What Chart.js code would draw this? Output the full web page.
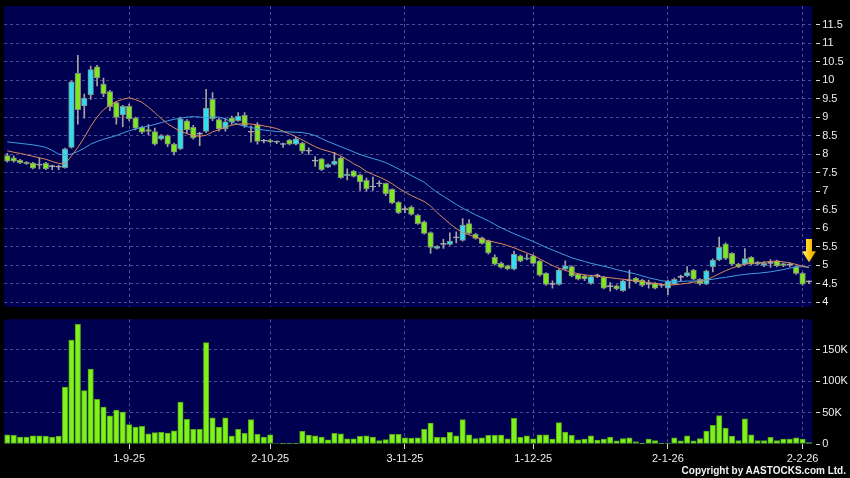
<!DOCTYPE html>
<html><head><meta charset="utf-8">
<script src="https://cdn.jsdelivr.net/npm/chart.js@4/dist/chart.umd.min.js"></script>
<style>
html,body{margin:0;padding:0;background:#000;width:850px;height:478px;overflow:hidden}
canvas{position:absolute;left:0}
#top{top:0}
#bot{top:310px}
#copy{position:absolute;right:4px;top:465px;line-height:12px;font:bold 10px "Liberation Sans",Arial,sans-serif;color:#f2f2f2;white-space:nowrap}
</style></head><body>
<canvas id="top" width="850" height="310"></canvas>
<canvas id="bot" width="850" height="168"></canvas>
<div id="copy">Copyright by AASTOCKS.com Ltd.</div>
<script>
// ---- data (one entry per trading day) ----
const opens = [7.96,7.90,7.83,7.78,7.76,7.70,7.75,7.66,7.65,7.63,
 8.18,10.18,9.30,9.60,10.36,9.89,9.69,9.39,9.06,9.29,
 8.97,8.72,8.66,8.61,8.41,8.50,8.27,8.14,8.90,8.72,
 8.54,8.61,9.48,8.93,8.68,8.97,8.90,9.05,8.59,8.79,
 8.35,8.37,8.32,8.26,8.38,8.27,8.30,8.08,7.81,7.87,
 7.65,7.72,7.90,7.42,7.54,7.44,7.29,7.11,7.20,7.21,
 7.05,6.70,6.50,6.57,6.35,6.17,5.88,5.45,5.56,5.56,
 5.74,5.67,6.12,5.83,5.74,5.66,5.21,5.05,4.98,4.89,
 5.25,5.16,5.25,5.11,4.78,4.48,4.48,4.89,4.96,4.75,
 4.71,4.51,4.71,4.67,4.42,4.44,4.31,4.58,4.65,4.60,
 4.48,4.51,4.45,4.38,4.49,4.67,4.71,4.87,4.62,4.49,
 4.96,5.14,5.57,5.32,5.03,5.03,5.21,5.03,4.99,5.05,
 5.12,5.04,5.00,4.96,4.78,4.55];
const highs = [8.02,7.95,7.86,7.80,7.78,7.90,7.78,7.70,7.70,8.16,
 9.97,10.67,9.62,10.38,10.40,10.05,9.72,9.42,9.32,9.35,
 9.00,8.75,8.80,8.70,8.53,8.52,8.30,9.00,8.93,8.78,
 8.59,9.75,9.66,8.97,8.97,9.03,9.12,9.12,8.76,8.85,
 8.40,8.40,8.36,8.30,8.40,8.45,8.32,8.17,7.93,7.88,
 7.74,8.05,7.92,7.60,7.56,7.46,7.35,7.38,7.28,7.22,
 7.06,6.72,6.58,6.60,6.37,6.20,5.90,5.53,5.70,5.87,
 5.90,6.26,6.23,5.86,5.76,5.68,5.28,5.08,5.00,5.38,
 5.27,5.30,5.28,5.13,4.80,4.58,4.90,5.12,4.98,4.78,
 4.74,4.72,4.76,4.70,4.53,4.47,4.60,4.87,4.67,4.62,
 4.60,4.53,4.50,4.60,4.65,4.73,4.96,4.89,4.64,4.87,
 5.17,5.76,5.60,5.34,5.05,5.45,5.23,5.10,5.10,5.15,
 5.14,5.06,5.06,4.98,4.80,4.58];
const lows = [7.78,7.78,7.74,7.72,7.60,7.60,7.58,7.58,7.58,7.62,
 8.16,8.81,8.97,9.48,9.84,9.55,9.17,8.81,8.74,8.90,
 8.65,8.55,8.52,8.24,8.38,8.20,7.98,8.12,8.55,8.40,
 8.23,8.58,8.90,8.62,8.62,8.80,8.88,8.72,8.32,8.27,
 8.30,8.30,8.28,8.18,8.25,8.25,8.02,7.99,7.67,7.55,
 7.63,7.70,7.34,7.30,7.38,7.02,7.00,7.02,7.12,6.88,
 6.66,6.39,6.42,6.35,6.10,5.84,5.32,5.43,5.45,5.54,
 5.60,5.65,5.84,5.70,5.57,5.30,5.00,4.92,4.88,4.87,
 5.09,5.14,5.03,4.70,4.45,4.38,4.46,4.87,4.68,4.60,
 4.58,4.48,4.66,4.36,4.30,4.33,4.29,4.38,4.52,4.42,
 4.38,4.36,4.40,4.20,4.47,4.56,4.69,4.60,4.46,4.47,
 4.82,5.12,5.15,5.00,4.93,5.00,5.00,5.00,4.96,4.94,
 4.95,4.96,4.95,4.75,4.46,4.50];
const closes = [7.81,7.81,7.77,7.74,7.62,7.70,7.60,7.66,7.65,8.14,
 9.95,9.20,9.51,10.28,10.06,9.63,9.28,8.99,9.29,8.95,
 8.70,8.59,8.61,8.27,8.50,8.27,8.05,8.95,8.65,8.44,
 8.54,9.24,8.95,8.68,8.87,8.86,9.03,8.77,8.59,8.34,
 8.35,8.33,8.32,8.26,8.27,8.41,8.08,8.08,7.81,7.58,
 7.72,7.81,7.36,7.46,7.40,7.25,7.06,7.11,7.20,6.93,
 6.68,6.42,6.50,6.37,6.12,5.86,5.48,5.51,5.56,5.65,
 5.74,6.08,5.86,5.72,5.59,5.33,5.03,4.94,4.90,5.30,
 5.11,5.20,5.05,4.73,4.48,4.48,4.87,4.98,4.71,4.62,
 4.63,4.69,4.71,4.38,4.42,4.36,4.58,4.58,4.54,4.45,
 4.48,4.38,4.45,4.58,4.62,4.67,4.80,4.62,4.50,4.85,
 5.14,5.48,5.18,5.03,4.95,5.18,5.03,5.08,5.05,5.05,
 4.98,4.99,5.00,4.78,4.49,4.55];
const volumes = [14700,13600,11000,11000,13000,13000,12600,11000,12600,90500,
 165000,190000,84700,119000,70800,58500,44600,53700,50500,30700,
 27000,28000,16300,18000,18400,17400,21100,66500,39300,23200,
 23200,161000,41400,27000,41400,12600,23200,16800,38700,15200,
 11000,14700,800,600,400,300,20000,14100,13100,11000,
 6700,16800,16300,8300,8300,12000,13100,11000,5600,7200,
 15200,15200,9900,9300,9900,23200,33400,10400,10400,18400,
 13100,38700,14700,8800,9900,13600,13600,14100,8300,40900,
 10400,13100,8300,14700,14700,7700,33900,19000,13600,6700,
 7700,13100,6100,7700,11000,5100,8800,9900,4000,1300,
 7700,5600,1300,1500,9900,5100,13100,5100,8800,20500,
 29600,45200,25400,12600,5600,39800,14700,5600,5600,10400,
 5600,7700,7700,9900,7700,2400];
const ma10 = [8.09,8.05,8.02,7.98,7.94,7.90,7.86,7.80,7.75,7.73,
 7.95,8.18,8.45,8.75,9.00,9.20,9.33,9.42,9.48,9.52,
 9.47,9.40,9.27,9.12,8.96,8.82,8.71,8.62,8.55,8.50,
 8.48,8.51,8.60,8.66,8.73,8.78,8.81,8.82,8.81,8.79,
 8.76,8.73,8.69,8.62,8.55,8.47,8.38,8.29,8.20,8.13,
 8.08,8.03,7.95,7.85,7.74,7.65,7.53,7.45,7.38,7.30,
 7.20,7.08,6.98,6.88,6.80,6.72,6.60,6.42,6.27,6.12,
 5.99,5.88,5.82,5.75,5.70,5.66,5.62,5.58,5.53,5.47,
 5.40,5.33,5.26,5.17,5.08,4.99,4.92,4.86,4.81,4.77,
 4.74,4.72,4.70,4.68,4.66,4.64,4.62,4.60,4.58,4.55,
 4.53,4.51,4.48,4.46,4.47,4.49,4.51,4.54,4.56,4.60,
 4.68,4.77,4.85,4.92,4.98,5.03,5.05,5.06,5.08,5.10,
 5.11,5.09,5.06,5.02,4.97,4.93];
const ma20 = [8.33,8.31,8.29,8.27,8.25,8.22,8.18,8.10,8.00,7.97,
 8.00,8.07,8.16,8.27,8.34,8.40,8.45,8.50,8.57,8.63,
 8.68,8.72,8.76,8.80,8.85,8.90,8.94,8.97,9.00,9.01,
 9.00,8.98,9.00,9.00,8.95,8.87,8.80,8.75,8.72,8.68,
 8.65,8.63,8.61,8.60,8.60,8.59,8.58,8.55,8.50,8.42,
 8.34,8.27,8.20,8.13,8.06,7.99,7.93,7.88,7.83,7.77,
 7.69,7.60,7.51,7.42,7.33,7.24,7.10,6.97,6.86,6.75,
 6.64,6.54,6.45,6.36,6.28,6.20,6.10,6.01,5.93,5.85,
 5.78,5.71,5.64,5.56,5.48,5.41,5.34,5.27,5.20,5.15,
 5.10,5.05,5.01,4.97,4.93,4.88,4.84,4.80,4.76,4.71,
 4.66,4.62,4.58,4.56,4.56,4.56,4.57,4.57,4.58,4.60,
 4.62,4.65,4.67,4.70,4.73,4.75,4.77,4.78,4.80,4.82,
 4.85,4.88,4.92,4.95,4.96,4.95];
const tickLabels = ['1-9-25','2-10-25','3-11-25','1-12-25','2-1-26','2-2-26'];
const tickBars = [19, 41, 62, 82, 103, 124];
const priceTicks = [4,4.5,5,5.5,6,6.5,7,7.5,8,8.5,9,9.5,10,10.5,11,11.5];
const volumeTicks = [0,50000,100000,150000];
const signalBar = 125;
const signalPrice = 5.39;

// ---- styling ----
const FONT = '"Liberation Sans", Arial, sans-serif';
const NAVY = '#000050';
const GRID = 'rgba(125,125,190,0.62)';
const TXT = '#ececec';
const UP = '#33dcf0', DOWN = '#80e622', DOJI = '#b4b4b4';
const EDGE = '#7e8c80', WICK = '#a4a4a4';

const categories = opens.map((_, i) => {
  const k = tickBars.indexOf(i);
  return k >= 0 ? tickLabels[k] : '';
});

const bgPlugin = {
  id: 'plotbg',
  beforeDraw(c) {
    const {ctx, chartArea: a} = c;
    ctx.save();
    ctx.fillStyle = NAVY;
    ctx.fillRect(a.left, a.top, a.right - a.left, a.bottom - a.top);
    ctx.restore();
  }
};

function makeArrow() {
  const c = document.createElement('canvas');
  c.width = 14; c.height = 23;
  const g = c.getContext('2d');
  const grad = g.createLinearGradient(0, 0, 14, 0);
  grad.addColorStop(0, '#fff08a');
  grad.addColorStop(0.45, '#ffd21a');
  grad.addColorStop(1, '#e09a00');
  g.fillStyle = grad;
  g.beginPath();
  g.moveTo(4, 0); g.lineTo(10, 0); g.lineTo(10, 12);
  g.lineTo(14, 12); g.lineTo(7, 23); g.lineTo(0, 12); g.lineTo(4, 12);
  g.closePath(); g.fill();
  return c;
}

const RIGHT_AXIS_W = 37.8;
const noPad = s => { s.paddingTop = 0; s.paddingBottom = 0; s.paddingLeft = 0; s.paddingRight = 0; };
const yTickStyle = {
  color: TXT, font: {family: FONT, size: 11}, padding: 2
};
const yGrid = {
  color: GRID, drawTicks: true, tickLength: 8, tickColor: '#d8d8d8',
  tickBorderDash: [0, 4, 4, 10], tickWidth: 1
};

const candleColor = ctx => {
  const i = ctx.dataIndex;
  return closes[i] > opens[i] ? UP : closes[i] < opens[i] ? DOWN : DOJI;
};
const candleEdge = ctx => {
  const i = ctx.dataIndex;
  return closes[i] === opens[i] ? DOJI : EDGE;
};

const arrowImg = makeArrow();

new Chart(document.getElementById('top'), {
  type: 'bar',
  data: {
    labels: categories,
    datasets: [
      { type: 'bar', data: lows.map((l, i) => [l, highs[i]]), backgroundColor: WICK,
        borderWidth: 0, barThickness: 1, grouped: false, order: 4 },
      { type: 'bar', data: opens.map((o, i) => [o, closes[i]]), backgroundColor: candleColor,
        borderColor: candleEdge, borderWidth: 1, borderSkipped: false, barThickness: 5.6,
        minBarLength: 1, grouped: false, order: 3 },
      { type: 'line', data: ma20, borderColor: '#3f9fe4', borderWidth: 1, pointRadius: 0,
        tension: 0, order: 2 },
      { type: 'line', data: ma10, borderColor: '#d98a5c', borderWidth: 1, pointRadius: 0,
        tension: 0, order: 1 },
      { type: 'line', data: opens.map((_, i) => i === signalBar ? signalPrice : null),
        showLine: false, pointStyle: arrowImg, pointRadius: 7, order: 0 }
    ]
  },
  options: {
    responsive: false, animation: false, devicePixelRatio: 1,
    layout: { autoPadding: false, padding: { left: 4.1, right: 0, top: 6, bottom: 3 } },
    plugins: { legend: { display: false }, tooltip: { enabled: false } },
    scales: {
      x: {
        type: 'category', offset: true,
        grid: { color: GRID, drawTicks: false, offset: false },
        border: { display: false, dash: [3, 3] },
        ticks: { display: false, autoSkip: false },
        afterBuildTicks: s => { s.ticks = tickBars.map(v => ({ value: v })); },
        afterFit: s => { s.height = 0; noPad(s); }
      },
      y: {
        position: 'right', min: 3.87, max: 12.0,
        grid: yGrid,
        border: { display: false, dash: [3, 3] },
        ticks: Object.assign({}, yTickStyle, { callback: v => String(v) }),
        afterBuildTicks: s => { s.ticks = priceTicks.map(v => ({ value: v })); },
        afterFit: s => { s.width = RIGHT_AXIS_W; noPad(s); }
      }
    }
  },
  plugins: [bgPlugin]
});

new Chart(document.getElementById('bot'), {
  type: 'bar',
  data: {
    labels: categories,
    datasets: [
      { data: volumes, backgroundColor: '#7ff21c', borderColor: '#56a814', borderWidth: 1,
        borderSkipped: false, barThickness: 5.4 }
    ]
  },
  options: {
    responsive: false, animation: false, devicePixelRatio: 1,
    layout: { autoPadding: false, padding: { left: 4.1, right: 0, top: 9.3, bottom: 0 } },
    plugins: { legend: { display: false }, tooltip: { enabled: false } },
    scales: {
      x: {
        type: 'category', offset: true,
        grid: { color: GRID, drawTicks: true, tickLength: 5, tickColor: '#d8d8d8', offset: false },
        border: { display: false, dash: [3, 3] },
        ticks: { color: TXT, font: { family: FONT, size: 11 }, padding: 3, autoSkip: false, maxRotation: 0 },
        afterBuildTicks: s => { s.ticks = tickBars.map(v => ({ value: v })); },
        afterFit: s => { s.height = 34; noPad(s); }
      },
      y: {
        position: 'right', min: 0, max: 198000,
        grid: Object.assign({}, yGrid, { color: c => (c.tick && c.tick.value === 0) ? 'rgba(0,0,0,0)' : GRID }),
        border: { display: false, dash: [3, 3] },
        ticks: Object.assign({}, yTickStyle, { callback: v => v === 0 ? '0' : (v / 1000) + 'K' }),
        afterBuildTicks: s => { s.ticks = volumeTicks.map(v => ({ value: v })); },
        afterFit: s => { s.width = RIGHT_AXIS_W; noPad(s); }
      }
    }
  },
  plugins: [bgPlugin]
});
</script>
</body></html>
